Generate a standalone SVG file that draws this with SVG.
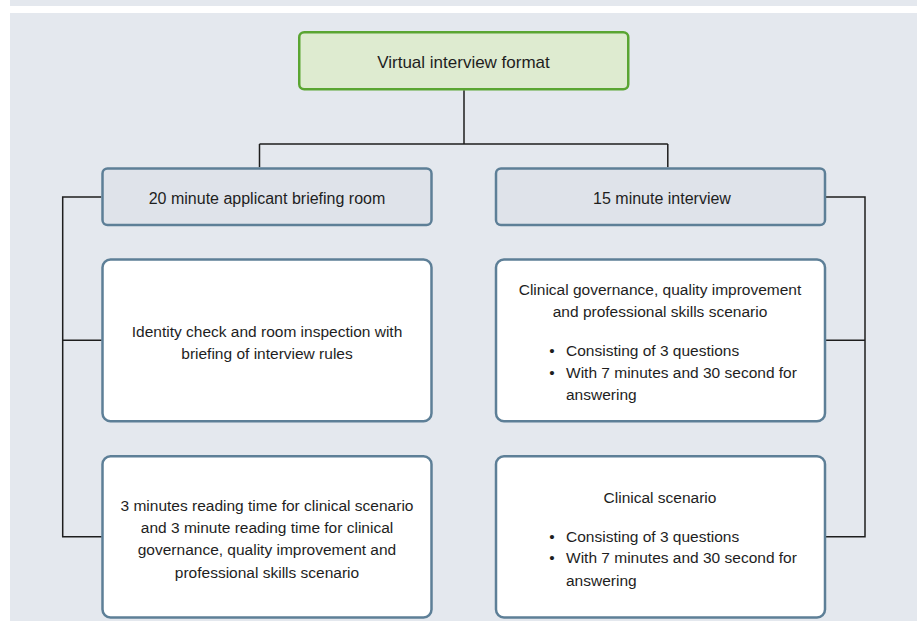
<svg xmlns="http://www.w3.org/2000/svg" width="921" height="621" viewBox="0 0 921 621">
<style>
.bg{fill:#e4e8ee}
.box{fill:#ffffff;stroke:#5d7f97;stroke-width:2.5}
.head{fill:#dfe3ea;stroke:#5d7f97;stroke-width:2.5}
.root{fill:#deebd0;stroke:#5aa532;stroke-width:2.5}
.con{fill:none;stroke:#1e1e1e;stroke-width:1.5}
text{font-family:"Liberation Sans",Arial,sans-serif;fill:#1e1e1e}
.t{font-size:15.5px;text-anchor:middle}
.l{font-size:15.5px}
.h{font-size:16px;text-anchor:middle}
.r{font-size:17px;text-anchor:middle}
</style>
<rect x="0" y="0" width="921" height="621" fill="#ffffff"/>
<rect class="bg" x="10" y="0" width="907" height="6"/>
<rect class="bg" x="10" y="13" width="907" height="608"/>
<g id="connectors">
<path class="con" d="M464 90.3V144M259.5 144H667.8M259.5 144V167.3M667.8 144V167.3"/>
<path class="con" d="M101.3 197H62.7V536.7H101.7M62.7 340.3H101.7"/>
<path class="con" d="M826 197H865V536.7H826M865 340.3H826"/>
</g>
<g id="root">
<rect class="root" x="299.25" y="32.25" width="329" height="57" rx="5"/>
<text class="r" x="463.5" y="67.5">Virtual interview format</text>
</g>
<g id="briefing">
<rect class="head" x="102.5" y="168.5" width="329" height="56.5" rx="5"/>
<text class="h" x="267" y="203.5">20 minute applicant briefing room</text>
</g>
<g id="interview">
<rect class="head" x="496" y="168.5" width="329" height="56.5" rx="5"/>
<text class="h" x="662" y="203.5">15 minute interview</text>
</g>
<g id="identity">
<rect class="box" x="102.5" y="259.5" width="329" height="161.8" rx="8"/>
<text class="t" x="267" y="337.3">Identity check and room inspection with</text>
<text class="t" x="267" y="359.3">briefing of interview rules</text>
</g>
<g id="reading">
<rect class="box" x="102.5" y="456.2" width="329" height="161.3" rx="8"/>
<text class="t" x="267" y="511">3 minutes reading time for clinical scenario</text>
<text class="t" x="267" y="533">and 3 minute reading time for clinical</text>
<text class="t" x="267" y="555">governance, quality improvement and</text>
<text class="t" x="267" y="577.5">professional skills scenario</text>
</g>
<g id="governance">
<rect class="box" x="496" y="259.5" width="329" height="161.8" rx="8"/>
<text class="t" x="660" y="295">Clinical governance, quality improvement</text>
<text class="t" x="660" y="316.7">and professional skills scenario</text>
<text class="t" x="552" y="356">•</text>
<text class="l" x="566" y="356">Consisting of 3 questions</text>
<text class="t" x="552" y="377.7">•</text>
<text class="l" x="566" y="377.7">With 7 minutes and 30 second for</text>
<text class="l" x="566" y="399.5">answering</text>
</g>
<g id="clinical">
<rect class="box" x="496" y="456.2" width="329" height="161.3" rx="8"/>
<text class="t" x="660" y="503.3">Clinical scenario</text>
<text class="t" x="552" y="541.7">•</text>
<text class="l" x="566" y="541.7">Consisting of 3 questions</text>
<text class="t" x="552" y="563.3">•</text>
<text class="l" x="566" y="563.3">With 7 minutes and 30 second for</text>
<text class="l" x="566" y="585.5">answering</text>
</g>
</svg>
